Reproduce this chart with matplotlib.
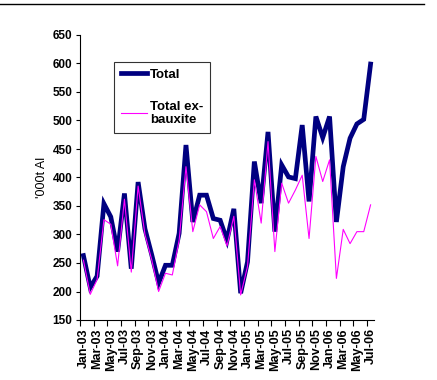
import matplotlib
matplotlib.use('Agg')
import matplotlib.pyplot as plt
from matplotlib.lines import Line2D
import pandas as pd

plt.rcParams['font.family'] = ['Liberation Sans', 'DejaVu Sans']

# monthly categories Jan-03 .. Jul-06
months = pd.date_range('2003-01-01', '2006-07-01', freq='MS').strftime('%b-%y').tolist()

total = [263, 207, 227, 354, 331, 270, 372, 240, 392, 310, 264, 215,
         246, 246, 302, 457, 322, 369, 369, 328, 325, 290, 345, 197,
         252, 428, 355, 480, 305, 422, 401, 398, 492, 358, 507, 470,
         507, 322, 419, 469, 494, 502, 599]
ex_bauxite = [255, 195, 221, 326, 318, 245, 362, 234, 385, 300, 255, 200,
              232, 229, 290, 419, 305, 352, 340, 293, 314, 280, 332, 194,
              244, 396, 320, 463, 270, 390, 355, 378, 404, 293, 437, 393,
              431, 223, 309, 284, 305, 305, 352]

x = list(range(len(months)))

fig = plt.figure(figsize=(4.37, 3.80), dpi=100)
ax = fig.add_axes([80/437, 1 - 320/380, 294/437, 285/380])

ax.plot(x, total, color='#000080', lw=3.4, label='Total', solid_joinstyle='miter')
ax.plot(x, ex_bauxite, color='#FF00FF', lw=0.8, label='Total ex-\nbauxite')

ax.set_xlim(-0.5, len(months) - 0.5)
ax.set_ylim(150, 650)
ax.set_yticks(range(150, 651, 50))

# labels on every 2nd month, tick marks on category boundaries
ax.set_xticks(x[::2])
ax.set_xticklabels(months[::2], rotation=90, fontsize=9, fontweight='bold')
ax.tick_params(axis='x', which='major', length=0, pad=6)
ax.set_xticks([i - 0.5 for i in x[::2]], minor=True)
ax.tick_params(axis='x', which='minor', length=4, width=0.8, direction='out')
ax.tick_params(axis='y', length=3, width=0.8, direction='out', labelsize=8.5, pad=2.5)
for lab in ax.get_yticklabels():
    lab.set_fontweight('bold')

for s in ['top', 'right']:
    ax.spines[s].set_visible(False)
for s in ['left', 'bottom']:
    ax.spines[s].set_linewidth(0.8)

ax.set_ylabel("'000t Al", fontsize=9, labelpad=3)

leg = ax.legend(loc='upper left', bbox_to_anchor=(0.116, 0.905), frameon=True,
                fancybox=False, edgecolor='black', handlelength=2.0,
                handletextpad=0.2, labelspacing=1.5, borderpad=0.5,
                borderaxespad=0, prop={'weight': 'bold', 'size': 9.5})
leg.get_frame().set_linewidth(0.8)

fig.add_artist(Line2D([0, 424/437], [1 - 4/380, 1 - 4/380], color='black', lw=1))

fig.savefig('out.png', dpi=100)
